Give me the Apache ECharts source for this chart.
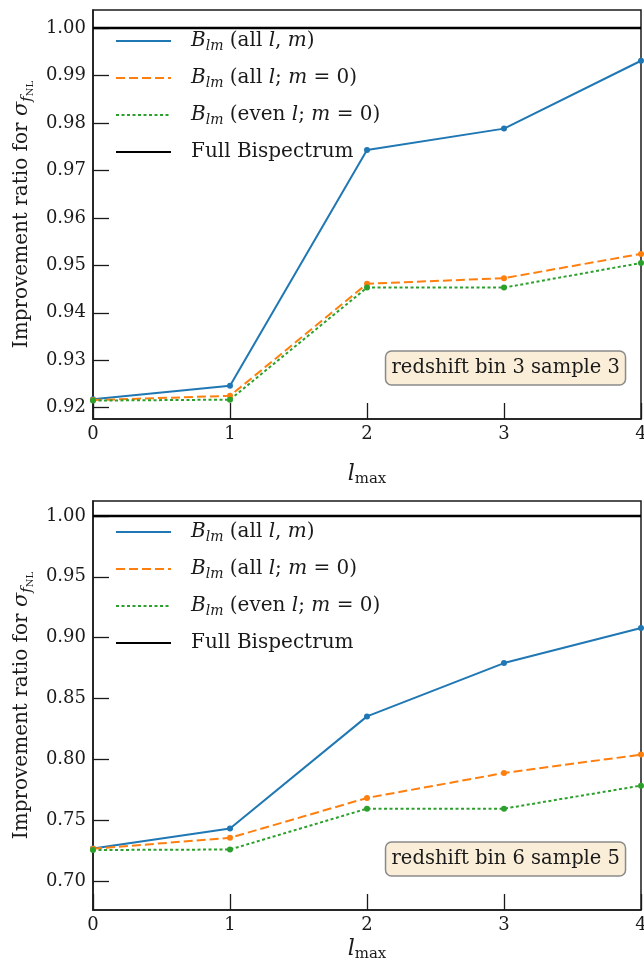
<!DOCTYPE html>
<html>
<head>
<meta charset="utf-8">
<script src="https://cdn.jsdelivr.net/npm/echarts@6/dist/echarts.min.js"></script>
<style>
  html, body { margin: 0; padding: 0; background: #fff; }
  #chart { width: 644px; height: 969px; }
</style>
</head>
<body>
<div id="chart"></div>
<script>
const lmax = [0, 1, 2, 3, 4]
// panel 1: redshift bin 3 sample 3
const allLM1 = [0.9218, 0.9246, 0.9743, 0.9788, 0.9931]
const allLM01 = [0.9216, 0.9225, 0.9461, 0.9473, 0.9524]
const evenLM01 = [0.9215, 0.9217, 0.9453, 0.9453, 0.9505]
// panel 2: redshift bin 6 sample 5
const allLM2 = [0.7267, 0.7431, 0.8353, 0.8791, 0.9079]
const allLM02 = [0.7265, 0.7355, 0.7683, 0.7888, 0.8039]
const evenLM02 = [0.7255, 0.7259, 0.7595, 0.7595, 0.7784]
// full bispectrum reference
const full = [1, 1, 1, 1, 1]

const yTicks1 = [0.92, 0.93, 0.94, 0.95, 0.96, 0.97, 0.98, 0.99, 1.00]
const yTicks2 = [0.70, 0.75, 0.80, 0.85, 0.90, 0.95, 1.00]
const seriesNames = ['Blm all l,m', 'Blm all l m=0', 'Blm even l m=0', 'Full Bispectrum']
const legendText = [
  '{i|B}{s|lm} (all {i|l}, {i|m})',
  '{i|B}{s|lm} (all {i|l}; {i|m} = 0)',
  '{i|B}{s|lm} (even {i|l}; {i|m} = 0)',
  'Full Bispectrum'
]
const boxText = ['redshift bin 3 sample 3', 'redshift bin 6 sample 5']

const FONT = "'DejaVu Serif', serif"
const INK = '#1a1a1a'

const pts = ys => lmax.map((x, i) => [x, ys[i]])

const styles = [
  { color: '#1f77b4', width: 2, type: 'solid', symbol: 'circle' },
  { color: '#ff7f0e', width: 2, type: [9, 4], symbol: 'circle' },
  { color: '#2ca02c', width: 2, type: [3, 2.5], symbol: 'circle' },
  { color: '#000000', width: 2.6, type: 'solid', symbol: 'none' }
]

function makeSeries(gridIndex, values) {
  return values.map((v, k) => ({
    name: seriesNames[k],
    type: 'line',
    xAxisIndex: gridIndex,
    yAxisIndex: gridIndex,
    data: pts(v),
    symbol: styles[k].symbol,
    symbolSize: 6,
    showSymbol: styles[k].symbol !== 'none',
    itemStyle: { color: styles[k].color },
    lineStyle: { color: styles[k].color, width: styles[k].width, type: styles[k].type },
    emphasis: { disabled: true },
    animation: false
  }))
}

function xAxis(gridIndex, gap) {
  return {
    type: 'value',
    gridIndex: gridIndex,
    min: 0,
    max: 4,
    interval: 1,
    name: '{l|l}{s|max}',
    nameLocation: 'middle',
    nameGap: gap,
    nameTextStyle: {
      fontFamily: FONT,
      color: INK,
      rich: {
        l: { fontFamily: FONT, fontStyle: 'italic', fontSize: 22, lineHeight: 26, color: INK },
        s: { fontFamily: FONT, fontSize: 15, lineHeight: 15, verticalAlign: 'bottom', color: INK }
      }
    },
    axisLine: { show: true, lineStyle: { color: INK, width: 1.5 } },
    axisTick: { show: true, inside: true, length: 16, lineStyle: { color: INK, width: 1.3 } },
    axisLabel: { fontFamily: FONT, fontSize: 18, color: INK, margin: 6 },
    splitLine: { show: false }
  }
}

function yAxis(gridIndex, min, max, ticks) {
  return {
    type: 'value',
    gridIndex: gridIndex,
    min: min,
    max: max,
    name: 'Improvement ratio for {i|σ}{s|f}{ss|NL}',
    nameLocation: 'middle',
    nameRotate: 90,
    nameGap: 56,
    nameTextStyle: {
      fontFamily: FONT,
      fontSize: 20,
      lineHeight: 26,
      color: INK,
      rich: {
        i: { fontFamily: FONT, fontStyle: 'italic', fontSize: 21, lineHeight: 26, color: INK },
        s: { fontFamily: FONT, fontStyle: 'italic', fontSize: 15, lineHeight: 16, verticalAlign: 'bottom', color: INK },
        ss: { fontFamily: FONT, fontSize: 10, lineHeight: 10, verticalAlign: 'bottom', color: INK }
      }
    },
    axisLine: { show: true, lineStyle: { color: INK, width: 1.5 } },
    axisTick: { show: true, inside: true, length: 16, customValues: ticks, lineStyle: { color: INK, width: 1.3 } },
    axisLabel: {
      fontFamily: FONT, fontSize: 18, color: INK, margin: 7,
      customValues: ticks,
      formatter: v => v.toFixed(2)
    },
    splitLine: { show: false }
  }
}

function legend(top) {
  return {
    left: 110,
    top: top,
    orient: 'vertical',
    itemWidth: 55,
    itemHeight: 14,
    itemGap: 13,
    selectedMode: false,
    data: seriesNames,
    formatter: name => legendText[seriesNames.indexOf(name)],
    itemStyle: { opacity: 0 },
    textStyle: {
      fontFamily: FONT,
      fontSize: 20,
      lineHeight: 24,
      color: INK,
      padding: [0, 0, 0, 15],
      rich: {
        i: { fontFamily: FONT, fontStyle: 'italic', fontSize: 20, lineHeight: 24, color: INK },
        s: { fontFamily: FONT, fontStyle: 'italic', fontSize: 14, lineHeight: 14, verticalAlign: 'bottom', color: INK }
      }
    }
  }
}

function box(text, top) {
  return {
    text: text,
    right: 18,
    top: top,
    padding: [5, 6],
    backgroundColor: '#faeed9',
    borderColor: '#8a8a8a',
    borderWidth: 1.5,
    borderRadius: 6,
    textStyle: { fontFamily: FONT, fontWeight: 'normal', fontSize: 19.5, lineHeight: 24, color: INK }
  }
}

const chart = echarts.init(document.getElementById('chart'), null, { renderer: 'canvas' })
chart.setOption({
  backgroundColor: '#fff',
  animation: false,
  grid: [
    { left: 93, top: 10, width: 548, height: 409, show: true, borderColor: INK, borderWidth: 1.5, backgroundColor: 'transparent', outerBoundsMode: 'none', containLabel: false },
    { left: 93, top: 501, width: 548, height: 409, show: true, borderColor: INK, borderWidth: 1.5, backgroundColor: 'transparent', outerBoundsMode: 'none', containLabel: false }
  ],
  xAxis: [xAxis(0, 42), xAxis(1, 26)],
  yAxis: [
    yAxis(0, 0.91762, 1.00379, yTicks1),
    yAxis(1, 0.6762, 1.0123, yTicks2)
  ],
  legend: [legend(24), legend(515)],
  title: [box(boxText[0], 351), box(boxText[1], 842)],
  series: [
    ...makeSeries(0, [allLM1, allLM01, evenLM01, full]),
    ...makeSeries(1, [allLM2, allLM02, evenLM02, full])
  ]
})
</script>
</body>
</html>
